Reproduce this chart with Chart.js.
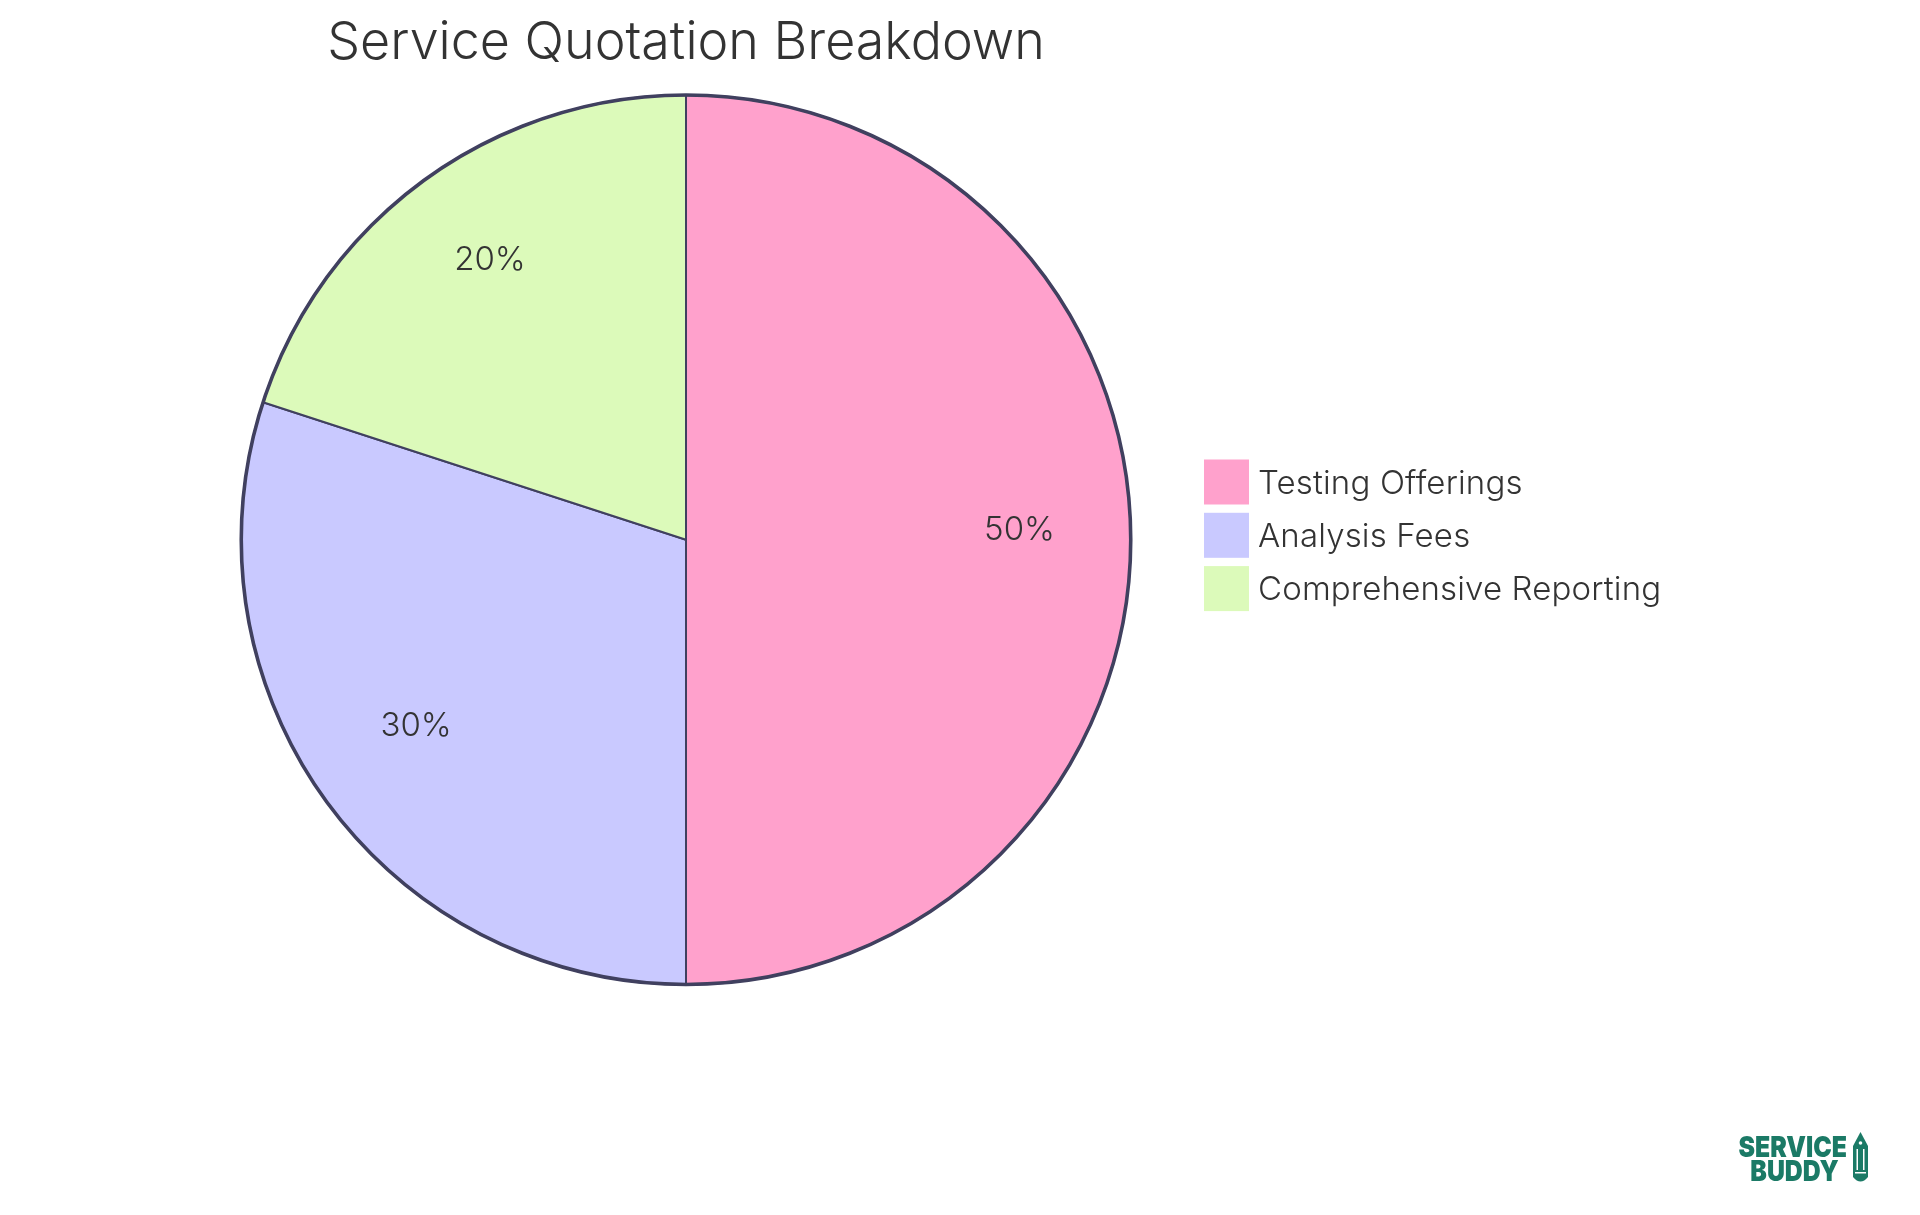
<!DOCTYPE html>
<html><head><meta charset="utf-8">
<style>html,body{margin:0;padding:0;background:#fff}canvas{display:block}</style>
<script src="https://cdn.jsdelivr.net/npm/chart.js@4"></script>
</head><body>
<div style="width:1920px;height:1215px"><canvas id="c" width="1920" height="1215"></canvas></div>
<script>
const categories = ["Testing Offerings", "Analysis Fees", "Comprehensive Reporting"];
const shares = [50, 30, 20];
const sliceColors = ["#FFA1CC", "#C9C9FF", "#DCFABA"];
const chartTitle = "Service Quotation Breakdown";
const logoWords = ["SERVICE", "BUDDY"];
const ink = "#333333", edge = "#40405F", logoInk = "#1B7A66";
const FONT = '"Inter","Noto Sans",sans-serif';

const decor = {
  id: "decor",
  afterDatasetsDraw(chart) {
    const ctx = chart.ctx, arcs = chart.getDatasetMeta(0).data;
    const cx = arcs[0].x, cy = arcs[0].y, r = arcs[0].outerRadius;
    ctx.save();
    ctx.strokeStyle = edge; ctx.lineWidth = 3.6;
    ctx.beginPath(); ctx.arc(cx, cy, r, 0, Math.PI * 2); ctx.stroke();

    ctx.fillStyle = ink; ctx.textAlign = "center"; ctx.textBaseline = "alphabetic";
    ctx.font = "300 33px " + FONT;
    arcs.forEach((a, i) => {
      const m = (a.startAngle + a.endAngle) / 2;
      ctx.fillText(shares[i] + "%", cx + Math.cos(m) * r * 0.75, cy + Math.sin(m) * r * 0.75);
    });

    ctx.font = "300 52px " + FONT;
    ctx.fillText(chartTitle, cx, 59);

    ctx.textAlign = "left";
    ctx.font = "300 33px " + FONT;
    ctx.letterSpacing = "0.15px";
    categories.forEach((t, i) => {
      const y = 459.5 + i * 53.3;
      ctx.fillStyle = sliceColors[i];
      ctx.fillRect(1204, y, 45, 45);
      ctx.fillStyle = ink;
      ctx.fillText(t, 1258, y + 34);
    });
    ctx.letterSpacing = "0px";

    ctx.fillStyle = logoInk;
    ctx.textAlign = "right";
    ctx.save();
    ctx.translate(1847, 1157);
    ctx.scale(0.92, 1.08);
    ctx.font = '900 27px ' + FONT;
    ctx.fillText(logoWords[0], 0, 0);
    ctx.fillText(logoWords[1], -9, 21.8);
    ctx.restore();
    ctx.beginPath();
    ctx.moveTo(1860.5, 1132); ctx.lineTo(1868, 1146); ctx.lineTo(1868, 1177);
    ctx.quadraticCurveTo(1860.5, 1186, 1853, 1177); ctx.lineTo(1853, 1146); ctx.closePath();
    ctx.fill();
    ctx.fillStyle = "#fff";
    ctx.fillRect(1856.5, 1149, 1.5, 21);
    ctx.fillRect(1863, 1149, 1.5, 21);
    ctx.fillRect(1855, 1172, 11, 1.5);
    ctx.beginPath(); ctx.arc(1860.5, 1143, 1.8, 0, Math.PI * 2); ctx.fill();
    ctx.restore();
  }
};

new Chart(document.getElementById("c"), {
  type: "pie",
  data: { labels: categories, datasets: [{ data: shares, backgroundColor: sliceColors, borderColor: edge, borderWidth: 2, borderAlign: "center" }] },
  options: {
    responsive: false, animation: false,
    layout: { padding: { left: 240, right: 788, top: 94, bottom: 229.5 } },
    plugins: { legend: { display: false }, tooltip: { enabled: false }, title: { display: false } }
  },
  plugins: [decor]
});
</script>
</body></html>
